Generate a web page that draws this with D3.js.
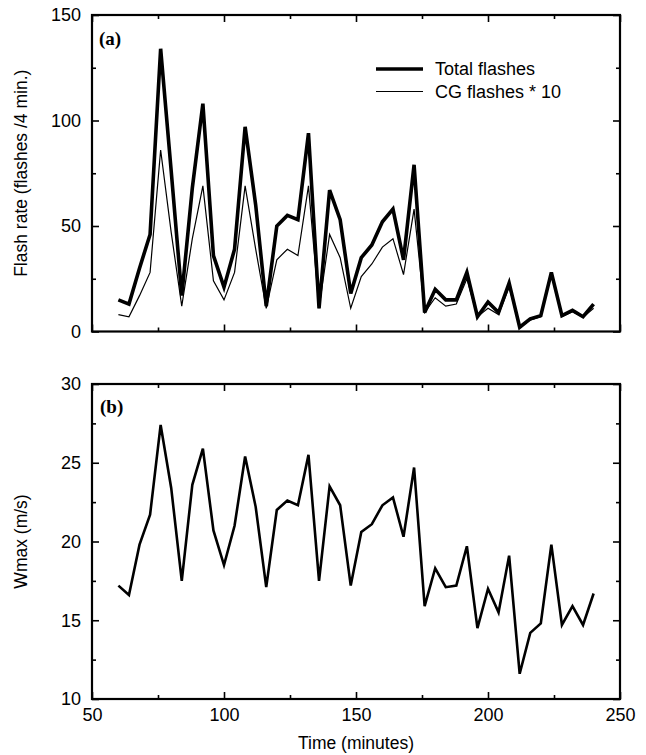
<!DOCTYPE html>
<html><head><meta charset="utf-8">
<script src="https://cdn.jsdelivr.net/npm/d3@7"></script>
<style>body{margin:0;background:#fff} svg{display:block}</style>
</head><body><svg id="c" width="646" height="755"></svg>
<script>
const time = [60,64,68,72,76,80,84,88,92,96,100,104,108,112,116,120,124,128,132,136,140,144,148,152,156,160,164,168,172,176,180,184,188,192,196,200,204,208,212,216,220,224,228,232,236,240];
const totalFlashes = [15,13,30,46,134,76,17,68,108,36,21,39,97,60,12,50,55,53,94,11,67,53,18,35,41,52,58,34,79,9,20,15,15,28,7,14,9,23,2,6,7.5,28,7.5,10,7,13];
const cgFlashesX10 = [8,7,17,28,86,47,12,44,69,24,15,28,69,39,11,34,39,36,69,11,46,35,11,26,32,40,44,27,58,9,16,12,13,25,7,11,8,21,2.3,5.4,7,27,7,9.4,6.7,11];
const wmax = [17.2,16.6,19.8,21.7,27.4,23.4,17.5,23.6,25.9,20.7,18.5,21,25.4,22.2,17.1,22,22.6,22.3,25.5,17.5,23.5,22.3,17.2,20.6,21.1,22.3,22.8,20.3,24.7,15.9,18.3,17.1,17.2,19.7,14.5,17,15.5,19.1,11.6,14.2,14.8,19.8,14.7,15.9,14.7,16.7];
const xTicks = [50,100,150,200,250];
const xMinorTicks = [75,125,175,225];
const flashTicks = [0,50,100,150];
const flashMinorTicks = [25,75,125];
const wTicks = [10,15,20,25,30];
const wMinorTicks = [12.5,17.5,22.5,27.5];
const legendLabels = ["Total flashes","CG flashes * 10"];

const svg = d3.select("#c");
const L = 92, R = 620;
const FONT = "'Liberation Sans', Arial, Helvetica, sans-serif";
const x = d3.scaleLinear().domain([50,250]).range([L,R]);
const yA = d3.scaleLinear().domain([0,150]).range([331.5,15]);
const yB = d3.scaleLinear().domain([10,30]).range([699,384]);

function styleAxis(g){
  g.select(".domain").remove();
  g.selectAll(".tick line").attr("stroke","#000").attr("stroke-width",1.6);
  g.selectAll("text").attr("font-family",FONT).attr("font-size",18).attr("fill","#000");
}

function panel(y, ticks, minor, showX){
  const top = y.range()[1], bottom = y.range()[0];
  // x axis bottom
  svg.append("g").attr("transform",`translate(0,${bottom})`)
    .call(d3.axisBottom(x).tickValues(xTicks).tickSizeInner(-7).tickSizeOuter(0).tickPadding(9)
      .tickFormat(showX ? d3.format("d") : ""))
    .call(styleAxis);
  svg.append("g").attr("transform",`translate(0,${bottom})`)
    .call(d3.axisBottom(x).tickValues(xMinorTicks).tickSizeInner(-4).tickSizeOuter(0).tickFormat(""))
    .call(styleAxis);
  // x axis top
  svg.append("g").attr("transform",`translate(0,${top})`)
    .call(d3.axisTop(x).tickValues(xTicks).tickSizeInner(-7).tickSizeOuter(0).tickFormat(""))
    .call(styleAxis);
  svg.append("g").attr("transform",`translate(0,${top})`)
    .call(d3.axisTop(x).tickValues(xMinorTicks).tickSizeInner(-4).tickSizeOuter(0).tickFormat(""))
    .call(styleAxis);
  // y left
  svg.append("g").attr("transform",`translate(${L},0)`)
    .call(d3.axisLeft(y).tickValues(ticks).tickSizeInner(-7).tickSizeOuter(0).tickPadding(11).tickFormat(d3.format("d")))
    .call(styleAxis);
  svg.append("g").attr("transform",`translate(${L},0)`)
    .call(d3.axisLeft(y).tickValues(minor).tickSizeInner(-4).tickSizeOuter(0).tickFormat(""))
    .call(styleAxis);
  // y right
  svg.append("g").attr("transform",`translate(${R},0)`)
    .call(d3.axisRight(y).tickValues(ticks).tickSizeInner(-7).tickSizeOuter(0).tickFormat(""))
    .call(styleAxis);
  svg.append("g").attr("transform",`translate(${R},0)`)
    .call(d3.axisRight(y).tickValues(minor).tickSizeInner(-4).tickSizeOuter(0).tickFormat(""))
    .call(styleAxis);
  // frame
  svg.append("rect").attr("x",L).attr("y",top).attr("width",R-L).attr("height",bottom-top)
    .attr("fill","none").attr("stroke","#000").attr("stroke-width",2.2);
}

panel(yA, flashTicks, flashMinorTicks, false);
panel(yB, wTicks, wMinorTicks, true);

const lineA = (vals) => d3.line().x((d,i)=>x(time[i])).y(d=>yA(d))(vals);
svg.append("path").attr("d",lineA(cgFlashesX10)).attr("fill","none").attr("stroke","#000")
  .attr("stroke-width",1.2).attr("stroke-linejoin","miter");
svg.append("path").attr("d",lineA(totalFlashes)).attr("fill","none").attr("stroke","#000")
  .attr("stroke-width",3.6).attr("stroke-linejoin","miter");
svg.append("path").attr("d",d3.line().x((d,i)=>x(time[i])).y(d=>yB(d))(wmax))
  .attr("fill","none").attr("stroke","#000").attr("stroke-width",2.6).attr("stroke-linejoin","miter");

// panel labels
svg.append("text").attr("x",99).attr("y",45).text("(a)")
  .attr("font-family","'Liberation Serif','Times New Roman',serif").attr("font-weight","bold").attr("font-size",19);
svg.append("text").attr("x",100).attr("y",413).text("(b)")
  .attr("font-family","'Liberation Serif','Times New Roman',serif").attr("font-weight","bold").attr("font-size",19);

// legend
const legY = [69, 91.5];
const legW = [3.6, 1.2];
legendLabels.forEach((lab,i)=>{
  svg.append("line").attr("x1",376).attr("x2",423).attr("y1",legY[i]).attr("y2",legY[i])
    .attr("stroke","#000").attr("stroke-width",legW[i]);
  svg.append("text").attr("x",435).attr("y",legY[i]).attr("dy","0.35em").text(lab)
    .attr("font-family",FONT).attr("font-size",18);
});

// axis titles
svg.append("text").attr("transform",`translate(27,${(yA.range()[0]+yA.range()[1])/2}) rotate(-90)`)
  .attr("text-anchor","middle").attr("font-family",FONT).attr("font-size",17.5).text("Flash rate (flashes /4 min.)");
svg.append("text").attr("transform",`translate(27,${(yB.range()[0]+yB.range()[1])/2}) rotate(-90)`)
  .attr("text-anchor","middle").attr("font-family",FONT).attr("font-size",17.5).text("Wmax (m/s)");
svg.append("text").attr("x",(L+R)/2).attr("y",749).attr("text-anchor","middle")
  .attr("font-family",FONT).attr("font-size",17.5).text("Time (minutes)");
</script></body></html>
